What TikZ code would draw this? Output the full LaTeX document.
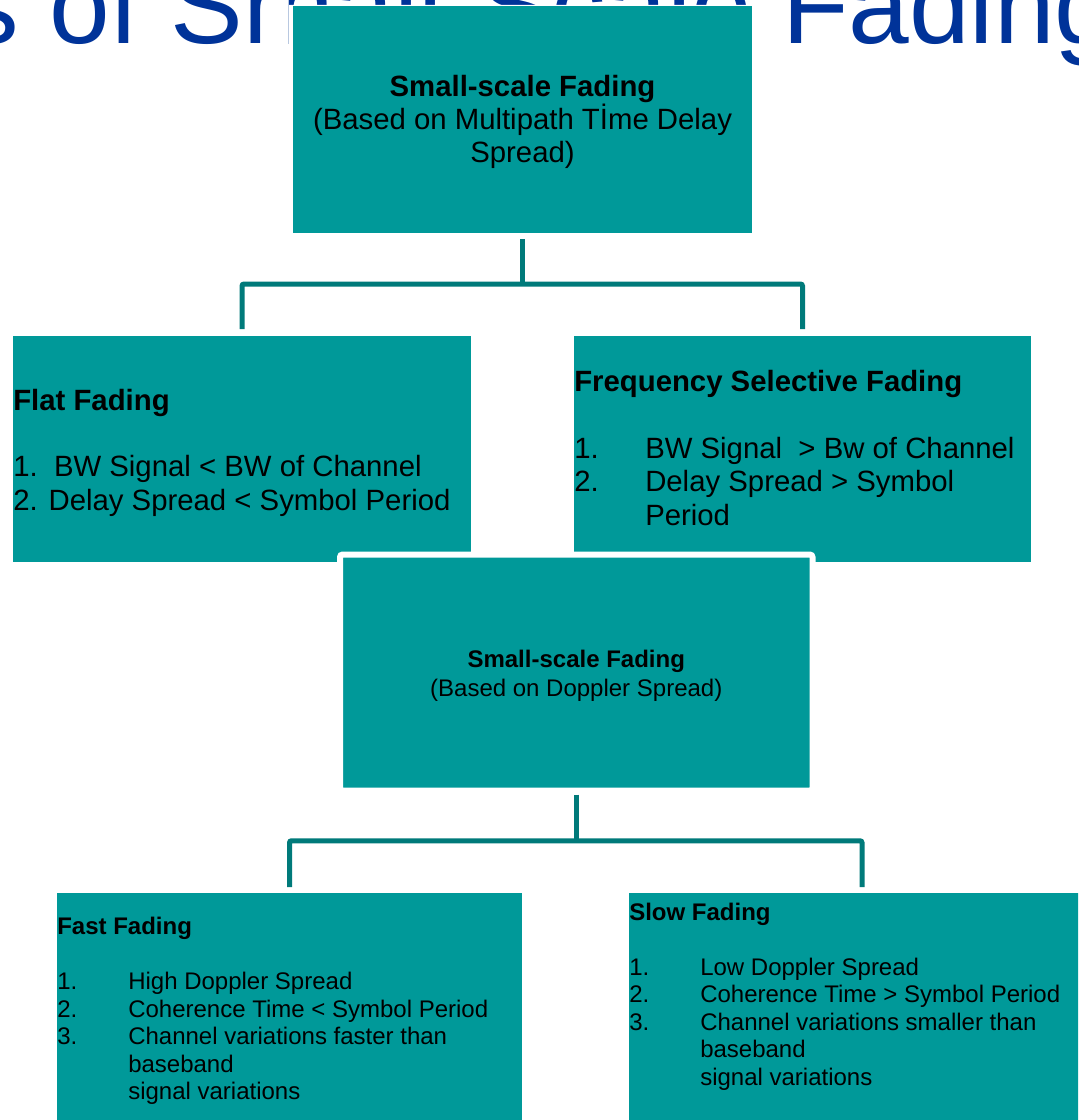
\documentclass[tikz,border=0pt]{standalone}
\usepackage{fontspec}
\setmainfont{Liberation Sans}
\usetikzlibrary{calc,positioning}

\definecolor{boxteal}{RGB}{0,153,153}
\definecolor{linkteal}{RGB}{0,122,122}
\definecolor{titleblue}{RGB}{0,51,153}
\definecolor{edgegray}{RGB}{184,200,224}
\newlength{\pxu}\setlength{\pxu}{0.75pt}
\newcommand{\itm}[1]{\makebox[53.25pt][l]{#1}}
\newcommand{\cont}{\hspace*{53.25pt}}

\begin{document}
\begin{tikzpicture}[x=0.75pt,y=-0.75pt,
  fadebox/.style={fill=boxteal,inner sep=0,outer sep=0,anchor=north west},
  link/.style={draw=linkteal,line width=5\pxu,rounded corners=1.5pt},
  bigtxt/.style={inner sep=0,font=\fontsize{22}{25}\selectfont},
  smalltxt/.style={inner sep=0,font=\fontsize{18}{20.6}\selectfont}]
  \useasboundingbox (0,0) rectangle (1078,1120);
  \clip (0,0) rectangle (1078,1120);

  % Slide title, mostly hidden behind the chart
  \node[anchor=base west,inner sep=0,text=titleblue,font=\fontsize{81.75}{90}\selectfont] (title) at (-272,44) {Types of Small-Scale Fading};
  \fill[white] (263,0) rectangle (288,60) (288,5) rectangle (765,60);
  \draw[edgegray,line width=\pxu] (288,0) -- (288,44);

  % Multipath delay spread (text nodes sit on their last baseline)
  \node[fadebox,minimum width=459\pxu,minimum height=227\pxu] (mpath) at (293,6) {};
  \node[bigtxt,align=center,anchor=base] (mpath-txt) at ($(mpath.north)+(0,157)$)
    {\textbf{Small-scale Fading}\\(Based on Multipath Tİme Delay\\Spread)};

  \node[fadebox,minimum width=458\pxu,minimum height=226\pxu] (flat) at (13,336) {};
  \node[bigtxt,align=left,anchor=base west] (flat-txt) at ($(flat.north west)+(0,174)$)
    {\textbf{Flat Fading}\\[25pt]1.\ \ BW Signal < BW of Channel\\2. Delay Spread < Symbol Period};

  \node[fadebox,minimum width=457\pxu,minimum height=226\pxu] (freq) at (574,336) {};
  \node[bigtxt,align=left,anchor=base west] (freq-txt) at ($(freq.north west)+(0,189)$)
    {\textbf{Frequency Selective Fading}\\[25pt]\itm{1.}BW Signal\ \ > Bw of Channel\\\itm{2.}Delay Spread > Symbol\\\cont Period};

  % Doppler spread
  \node[fadebox,draw=white,line width=6\pxu,rounded corners=2pt,minimum width=472.5\pxu,minimum height=236\pxu] (doppler) at (340,554.5) {};
  \node[inner sep=0,font=\fontsize{18}{21.75}\selectfont,align=center,anchor=base] (doppler-txt) at ($(doppler.north)+(0,141.5)$)
    {\textbf{Small-scale Fading}\\(Based on Doppler Spread)};

  \node[fadebox,minimum width=465\pxu,minimum height=231\pxu] (fast) at (57,893) {};
  \node[smalltxt,align=left,anchor=base west] (fast-txt) at ($(fast.north west)+(0,206.5)$)
    {\textbf{Fast Fading}\\[20.6pt]\itm{1.}High Doppler Spread\\\itm{2.}Coherence Time < Symbol Period\\\itm{3.}Channel variations faster than\\\cont baseband\\\cont signal variations};

  \node[fadebox,minimum width=466\pxu,minimum height=231\pxu] (slow) at (629,893) {};
  \node[smalltxt,align=left,anchor=base west] (slow-txt) at ($(slow.north west)+(0,192)$)
    {\textbf{Slow Fading}\\[20.6pt]\itm{1.}Low Doppler Spread\\\itm{2.}Coherence Time > Symbol Period\\\itm{3.}Channel variations smaller than\\\cont baseband\\\cont signal variations};

  % Links to the first pair
  \coordinate (mpath-out) at ($(mpath.south)+(0,6)$);
  \coordinate (flat-in) at ($(flat.north)+(0,-7)$);
  \coordinate (freq-in) at ($(freq.north)+(0,-7)$);
  \coordinate (bar1) at ($(mpath-out)!0.5!(flat-in)$);
  \draw[link] (mpath-out) -- (mpath-out |- bar1);
  \draw[link] (flat-in) |- (bar1 -| freq-in) -- (freq-in);

  % Links to the second pair
  \coordinate (doppler-out) at ($(doppler.south)+(0,4)$);
  \coordinate (fast-in) at ($(fast.north)+(0,-6)$);
  \coordinate (slow-in) at ($(slow.north)+(0,-6)$);
  \coordinate (bar2) at ($(doppler-out)!0.5!(fast-in)$);
  \draw[link] (doppler-out) -- (doppler-out |- bar2);
  \draw[link] (fast-in) |- (bar2 -| slow-in) -- (slow-in);
\end{tikzpicture}
\end{document}
